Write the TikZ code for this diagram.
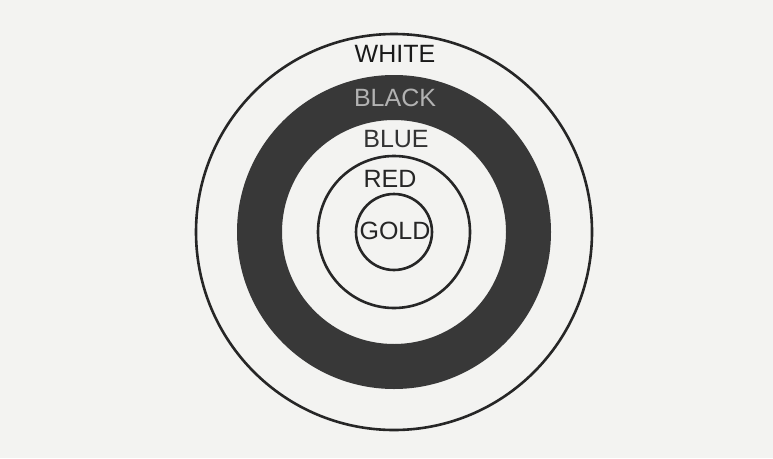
\documentclass[tikz,border=0pt]{standalone}
\usepackage{fontspec}
\setmainfont{Liberation Sans}
\begin{document}
\begin{tikzpicture}[x=1pt,y=-1pt,
  ringline/.style={draw=black!85, line width=2.6pt},
  lbl/.style={font=\fontsize{25}{25}\selectfont, inner sep=0pt, anchor=center},
]
\definecolor{paper}{HTML}{F3F3F1}
\definecolor{ringdark}{HTML}{383838}
\fill[paper] (0,0) rectangle (773,458);
\useasboundingbox (0,0) rectangle (773,458);
\coordinate (c) at (394,232);
% black ring
\fill[ringdark, even odd rule] (c) circle (157pt) (c) circle (112pt);
% outer white ring line
\draw[ringline] (c) circle (198pt);
% red circle
\draw[ringline] (c) circle (76pt);
% gold circle
\draw[ringline] (c) circle (38pt);
% labels
\node[lbl, text=black!90] (white) at (395,54) {WHITE};
\node[lbl, text=black!30] (black) at (395,98) {BLACK};
\node[lbl, text=black!80] (blue) at (396,139) {BLUE};
\node[lbl, text=black!85] (red) at (390,179) {RED};
\node[lbl, text=black!85] (gold) at (395,231) {GOLD};
\end{tikzpicture}
\end{document}
